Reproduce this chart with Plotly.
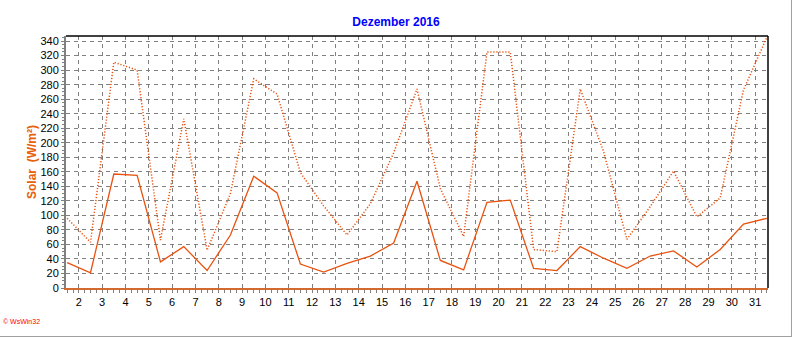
import plotly.graph_objects as go

days = list(range(1, 32))
solar_avg = [35, 21, 157, 155, 36, 57, 24, 73, 154, 131, 33, 22, 34, 44, 62,
             147, 38, 25, 118, 121, 27, 24, 57, 41, 27, 44, 51, 29, 53, 88, 96]
solar_max = [96, 63, 311, 300, 66, 233, 52, 130, 288, 267, 159, 113, 73, 116, 186,
             274, 137, 71, 325, 325, 53, 50, 274, 188, 67, 112, 161, 98, 124, 273, 345]
x_ticks = list(range(2, 32))
y_ticks = list(range(0, 341, 20))

title_text = "Dezember 2016"
y_title = "Solar  (W/m²)"
credit = "© WsWin32"

LINE = "#E8520E"
GRID = "#808080"
FONT = "Liberation Sans, Arial, sans-serif"

xs = [d + 0.5 for d in days]

fig = go.Figure()
fig.add_trace(go.Scatter(x=xs, y=solar_max, mode="lines",
                         line=dict(color=LINE, width=1.5, dash="1.2px,1.8px"),
                         hoverinfo="skip", showlegend=False))
fig.add_trace(go.Scatter(x=xs, y=solar_avg, mode="lines",
                         line=dict(color=LINE, width=1.3),
                         hoverinfo="skip", showlegend=False))

fig.update_layout(
    width=792, height=337,
    margin=dict(l=66, r=24, t=36, b=49, pad=0),
    paper_bgcolor="white", plot_bgcolor="white",
    font=dict(family=FONT, size=11, color="black"),
    title=dict(text="<b>" + title_text + "</b>", x=0.5, xanchor="center",
               y=1 - 22 / 337, yanchor="middle", yref="container",
               font=dict(family=FONT, size=12, color="#0000FF")),
    xaxis=dict(range=[1.45, 31.55], tickmode="array", tickvals=x_ticks,
               ticktext=[str(v) for v in x_ticks],
               showgrid=True, gridcolor=GRID, gridwidth=1, griddash="4px,4px",
               zeroline=False, showline=True, linecolor="#D2692E", linewidth=2,
               ticks="outside", ticklen=3, tickcolor=GRID, tickwidth=1,
               minor=dict(dtick=0.25, tick0=0, ticks="outside", ticklen=3,
                          tickcolor=GRID, showgrid=False),
               tickfont=dict(family=FONT, size=11, color="black"),
               fixedrange=True),
    yaxis=dict(range=[0, 347], tickmode="array", tickvals=y_ticks,
               showgrid=True, gridcolor=GRID, gridwidth=1, griddash="4px,4px",
               zeroline=False, showline=True, linecolor=GRID, linewidth=2,
               ticks="outside", ticklen=3, tickcolor=GRID, tickwidth=1,
               minor=dict(dtick=5, tick0=0, ticks="outside", ticklen=2,
                          tickcolor=GRID, showgrid=False),
               tickfont=dict(family=FONT, size=11, color="black"),
               fixedrange=True),
    shapes=[
        dict(type="line", xref="paper", yref="paper", x0=0, x1=1, y0=1, y1=1,
             line=dict(color="black", width=1.5)),
        dict(type="line", xref="paper", yref="paper", x0=1, x1=1, y0=0, y1=1,
             line=dict(color="black", width=1.5)),
        dict(type="line", xref="paper", yref="paper",
             x0=(791.5 - 66) / 702, x1=(791.5 - 66) / 702,
             y0=-(337 - 288) / 252, y1=288 / 252,
             line=dict(color="#A0A0A0", width=1)),
        dict(type="line", xref="paper", yref="paper",
             x0=-66 / 702, x1=(792 - 66) / 702,
             y0=-(336.5 - 288) / 252, y1=-(336.5 - 288) / 252,
             line=dict(color="#A0A0A0", width=1)),
    ],
    annotations=[
        dict(text="<b>" + y_title + "</b>", textangle=-90, xref="paper", yref="paper",
             x=(32 - 66) / 702, y=0.5, xanchor="center", yanchor="middle",
             showarrow=False, font=dict(family=FONT, size=12, color="#E8600A")),
        dict(text=credit, xref="paper", yref="paper",
             x=(1 - 66) / 702, y=-(321 - 288) / 252, xanchor="left", yanchor="middle",
             showarrow=False, font=dict(family=FONT, size=7, color="#FF0000")),
    ],
)

fig.write_html("out.html", include_plotlyjs=True, config={"displayModeBar": False})
